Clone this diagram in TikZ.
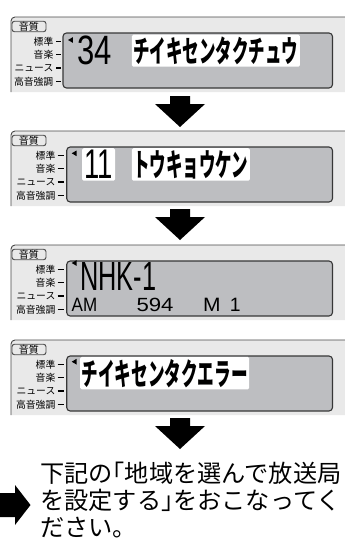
\documentclass[tikz,border=0pt]{standalone}
\usepackage{fontspec}
\setmainfont{Liberation Sans}
\newfontfamily\jp{Noto Sans CJK JP}
\newfontfamily\jph{Noto Sans CJK JP}[RawFeature=+halt]
\definecolor{panelbg}{RGB}{233,233,233}
\definecolor{dispbg}{RGB}{189,190,193}
\definecolor{frame}{RGB}{72,72,72}
\definecolor{dispframe}{RGB}{55,55,55}
\tikzset{
  lab/.style={font=\jp\fontsize{9.8}{10}\selectfont, inner sep=0, anchor=east},
  qbox/.style={draw=frame, line width=0.9, rounded corners=2.5, minimum width=34, minimum height=10.5, inner sep=0, font=\jp\fontsize{10}{10}\selectfont},
  wtxt/.style={fill=white, rounded corners=1.5, inner xsep=1.5, inner ysep=2, anchor=north west},
  lcd/.style={inner sep=0, anchor=north west},
  blockarrow/.style={fill=black},
  tick/.style={line width=1.6},
  notes/.style={font=\jp\fontsize{24.2}{27.5}\selectfont, inner sep=0, anchor=base west},
}
\newcommand\dispjp{\jp\bfseries}
\newcommand\hw[1]{{\jph\fontsize{24.2}{27.5}\selectfont #1}}
% #1 prefix, #2 top, #3 display left, #4 label right, #5 #6 dash, #7 triangle y
\newcommand\dpanel[7]{%
  \fill[panelbg] (11,#2+75) -- (11,#2+4) arc[start angle=180,end angle=270,radius=4] -- (350,#2) -- (350,#2+75) -- cycle;
  \draw[frame,line width=0.9] (11,#2+75) -- (11,#2+4) arc[start angle=180,end angle=270,radius=4] -- (350,#2);
  \node[qbox] (#1q) at (29,#2+9.5) {音質};
  \draw[dispframe,line width=1.1,fill=dispbg,rounded corners=3.5] (#3,#2+16) rectangle (332.5,#2+71);
  \node[lab] (#1a) at (#4,#2+24.5) {標準};
  \node[lab] (#1b) at (#4,#2+37.5) {音楽};
  \node[lab] (#1c) at (#4,#2+51) {ニュース};
  \node[lab] (#1d) at (#4,#2+64.5) {高音強調};
  \foreach \yy in {24.5,37.5,51,64.5} \draw[tick] (#5,#2+\yy) -- (#6,#2+\yy);
  \fill (#3+5,#7) -- (#3+9.8,#7-2.8) -- (#3+9.8,#7+2.8) -- cycle;
}
\newcommand\downblock[2]{%
  \fill[blockarrow] (#1-10,#2) -- (#1+10,#2) -- (#1+10,#2+8) -- (#1+25,#2+8) -- (#1,#2+31) -- (#1-25,#2+8) -- (#1-10,#2+8) -- cycle;
}
\begin{document}
\begin{tikzpicture}[x=1pt,y=-1pt]
\useasboundingbox (0,0) rectangle (345,538);

\dpanel{p1}{17}{63}{53.5}{56}{60.5}{40}
\dpanel{p2}{131}{66.7}{55.5}{57.5}{64}{153.3}
\dpanel{p3}{245}{66.7}{55.5}{57.5}{64}{263}
\dpanel{p4}{340}{66.7}{55.5}{57.5}{64}{361.7}

% panel 1
\node[lcd] (n34) at (77.5,36) {\resizebox*{34.5pt}{29pt}{34}};
\node[wtxt] (k1) at (131.7,34.5) {\resizebox*{165pt}{28pt}{\dispjp チイキセンタクチュウ}};

% panel 2
\node[fill=white, rounded corners=1.5, inner xsep=2.25, inner ysep=2, anchor=north west] (n11) at (82,148) {\resizebox*{28.5pt}{28.5pt}{11}};
\node[wtxt] (k2) at (131.7,148) {\resizebox*{115pt}{28.5pt}{\dispjp トウキョウケン}};

% panel 3
\node[lcd] (nhk) at (80,262) {\resizebox*{76pt}{28pt}{NHK-1}};
\node[lcd] (am) at (71.5,298.3) {\resizebox*{25.5pt}{13.3pt}{AM}};
\node[lcd] (fq) at (136.3,298.2) {\resizebox*{37pt}{13.5pt}{594}};
\node[lcd] (mm) at (202.8,298.3) {\resizebox*{17.5pt}{13.3pt}{M}};
\node[lcd] (m1) at (229.7,298.3) {\resizebox*{!}{13.3pt}{1}};

% panel 4
\node[wtxt] (k4) at (80,356.7) {\resizebox*{166pt}{28.5pt}{\dispjp チイキセンタクエラー}};

% arrows
\downblock{180}{96}
\downblock{180}{209}
\downblock{180}{418}
\fill[blockarrow] (0,493) -- (15,493) -- (15,485) -- (30.5,505) -- (15,525) -- (15,517) -- (0,517) -- cycle;

\node[notes] (msg1) at (40,482) {下記の\hw{「}地域を選んで放送局};
\node[notes] (msg2) at (40,509.5) {を設定する\hw{」}をおこなってく};
\node[notes] (msg3) at (40,536) {ださい。};
\end{tikzpicture}
\end{document}
